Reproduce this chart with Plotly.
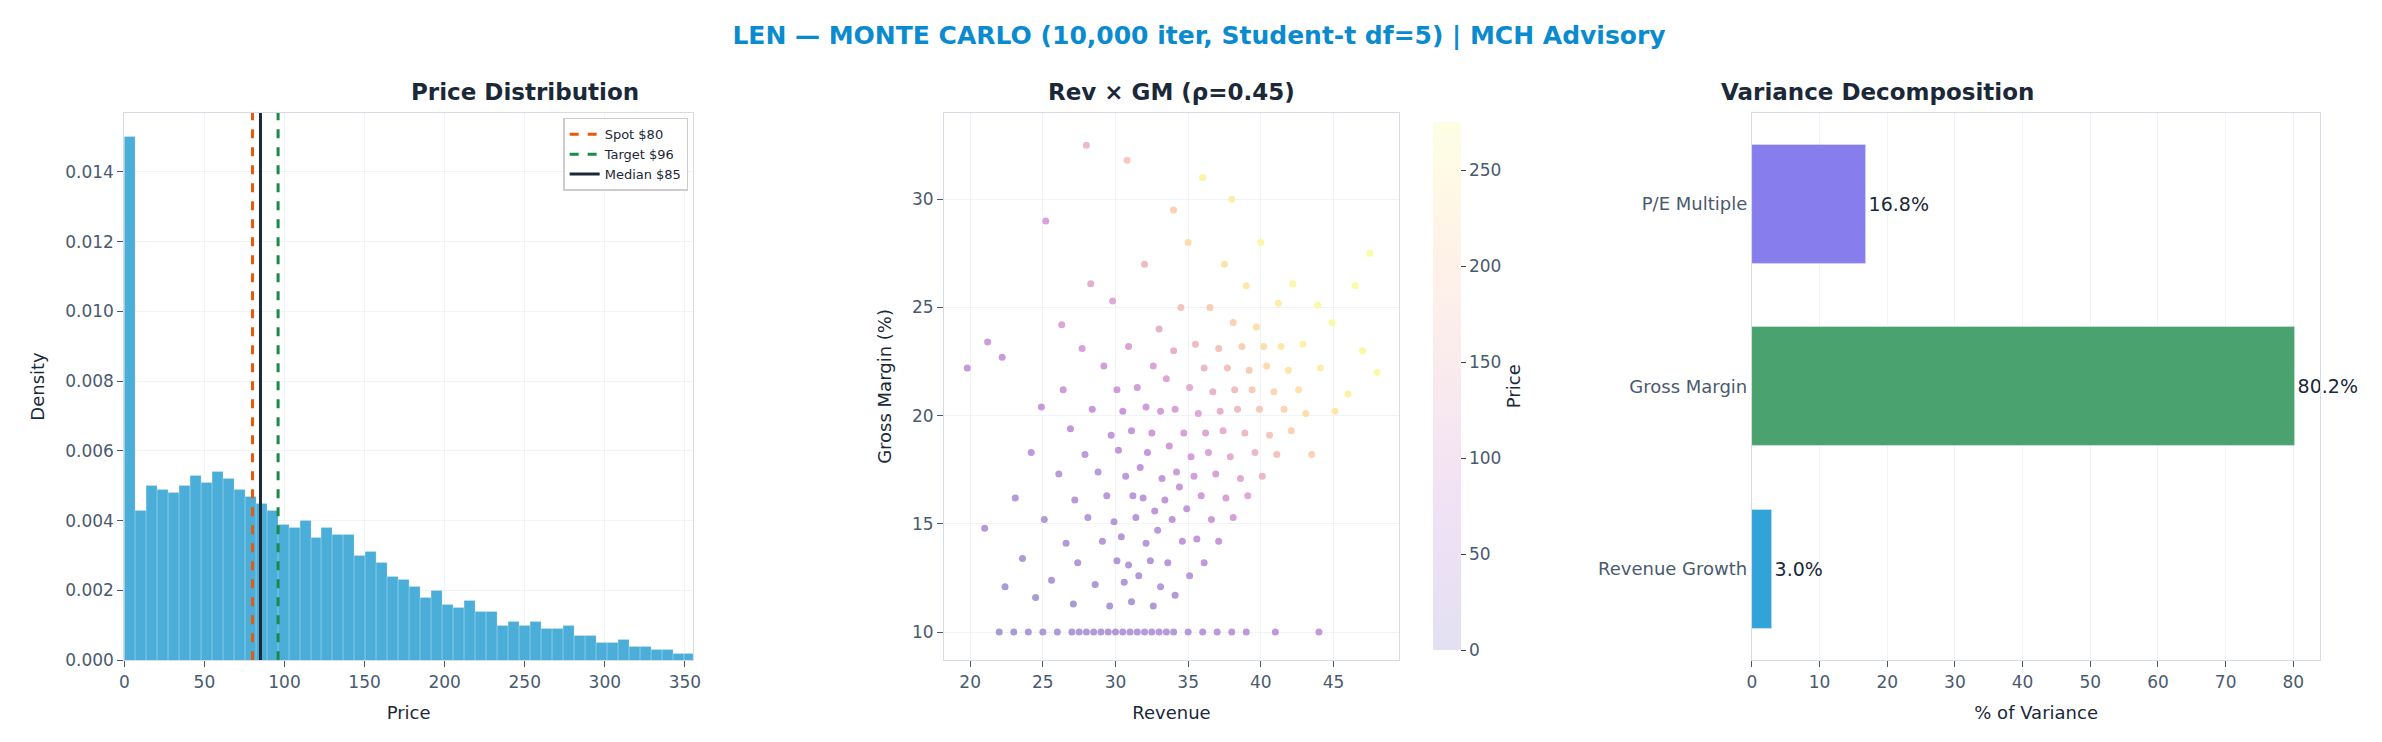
import plotly.graph_objects as go

# histogram of simulated price (density per bin, bin width ~6.85)
bin_width = 6.85
hist_density = [0.0150, 0.0043, 0.0050, 0.0049, 0.0048, 0.0050, 0.0053, 0.0051, 0.0054, 0.0052,
                0.0049, 0.0047, 0.0045, 0.0043, 0.0039, 0.0038, 0.0040, 0.0035, 0.0038, 0.0036,
                0.0036, 0.0030, 0.0031, 0.0028, 0.0024, 0.0023, 0.0021, 0.0018, 0.0020, 0.0016,
                0.0015, 0.0017, 0.0014, 0.0014, 0.0010, 0.0011, 0.0010, 0.0011, 0.0009, 0.0009,
                0.0010, 0.0007, 0.0007, 0.0005, 0.0005, 0.0006, 0.0004, 0.0004, 0.0003, 0.0003,
                0.0002, 0.0002]
spot, target, median = 80, 96, 85

# sampled points of the revenue / gross margin cloud (rev, gm, price)
cloud = [(19.8,22.2,60),(21.2,23.4,70),(22.2,22.7,65),(21,14.8,25),(22.4,12.1,15),(23.1,16.2,30),(23.6,13.4,20),
         (24.2,18.3,45),(24.5,11.6,15),(25.1,15.2,30),(24.9,20.4,60),(25.2,29,90),(25.6,12.4,20),(26.1,17.3,40),
         (26.3,24.2,100),(26.6,14.1,25),(26.4,21.2,70),(27.1,11.3,15),(27.2,16.1,35),(26.9,19.4,55),(27.4,13.2,25),
         (27.7,23.1,90),(28.1,15.3,30),(27.9,18.2,45),(28.3,26.1,120),(28.6,12.2,20),(28.4,20.3,60),(29.1,14.2,30),
         (28.8,17.4,40),(29.2,22.3,80),(29.6,11.2,20),(29.4,16.3,35),(29.7,19.1,55),(30.1,13.3,25),(29.9,15.1,30),
         (30.2,18.4,50),(30.1,21.2,70),(29.8,25.3,110),(30.6,12.3,25),(30.4,14.4,30),(30.7,17.2,45),(30.5,20.2,65),
         (31.1,11.4,20),(30.9,13.1,30),(31.2,16.3,40),(31.1,19.3,60),(30.9,23.2,95),(31.6,12.6,25),(31.4,15.3,35),
         (31.7,17.6,50),(31.5,21.3,80),(32.1,14.1,35),(31.9,16.2,45),(32.2,18.3,60),(32.1,20.4,75),(32,27,150),
         (32.6,11.2,25),(32.4,13.3,30),(32.7,15.6,45),(32.5,19.2,70),(32.6,22.3,100),(33.1,12.1,30),(32.9,14.7,40),
         (33.2,17.1,60),(33.1,20.2,85),(33,24,130),(33.6,13.2,35),(33.4,16.1,55),(33.7,18.6,75),(33.5,21.7,105),
         (34.1,11.7,30),(33.9,15.2,50),(34.2,17.4,70),(34.1,20.3,95),(34,23,130),(34.6,14.2,45),(34.4,16.7,65),
         (34.7,19.2,90),(34.5,25,170),(35.1,12.6,40),(34.9,15.7,60),(35.2,18.1,85),(35.1,21.3,120),(35,28,220),
         (35.6,14.3,55),(35.4,17.2,80),(35.7,20.1,110),(35.5,23.3,150),(36.1,13.2,50),(35.9,16.3,75),(36.2,19.2,105),
         (36.1,22.2,145),(36,31,260),(36.6,15.2,70),(36.4,18.3,100),(36.7,21.1,135),(36.5,25,190),(37.1,14.2,65),
         (36.9,17.3,95),(37.2,20.2,130),(37.1,23.1,170),(37.6,16.2,90),(37.4,19.3,125),(37.7,22.2,165),(37.5,27,230),
         (38.1,15.3,85),(37.9,18.1,120),(38.2,21.2,160),(38.1,24.3,200),(38.6,17.1,115),(38.4,20.3,155),
         (38.7,23.2,195),(39.1,16.3,110),(38.9,19.2,150),(39.2,22.1,190),(39,26,240),(39.6,18.3,145),(39.4,21.2,185),
         (39.7,24.1,225),(40.1,17.2,140),(39.9,20.3,180),(40.2,23.2,220),(40,28,265),(40.6,19.1,175),(40.4,22.3,215),
         (41.1,18.2,170),(40.9,21.1,210),(41.2,25.2,250),(41.6,20.3,205),(41.4,23.2,240),(42.1,19.3,200),
         (41.9,22.1,235),(42.2,26.1,265),(42.6,21.2,230),(43.1,20.1,225),(42.9,23.3,255),(43.5,18.2,200),
         (44.1,22.2,250),(43.9,25.1,270),(45.1,20.2,240),(44.9,24.3,270),(46,21,255),(46.5,26,275),(47,23,270),
         (48,22,270),(47.5,27.5,275),(28,32.5,150),(30.8,31.8,180),(34,29.5,200),(38,30,250),
         (22,10,15),(23,10,15),(24,10,18),(25,10,18),(26,10,20),(27,10,20),(27.5,10,22),(28,10,22),
         (28.5,10,24),(29,10,24),(29.5,10,25),(30,10,26),(30.5,10,27),(31,10,28),(31.5,10,28),(32,10,30),
         (32.5,10,30),(33,10,32),(33.5,10,32),(34,10,34),(35,10,36),(36,10,38),(37,10,40),(38,10,42),
         (39,10,44),(41,10,48),(44,10,55)]
rev = [p[0] for p in cloud]
gm = [p[1] for p in cloud]
price = [p[2] for p in cloud]

factors = ["Revenue Growth", "Gross Margin", "P/E Multiple"]
variance_pct = [3.0, 80.2, 16.8]
factor_colors = ["#31a3d8", "#4aa26e", "#887ded"]

# plasma washed out with white (matplotlib alpha look)
plasma = ["#0d0887", "#46039f", "#7201a8", "#9c179e", "#bd3786",
          "#d8576b", "#ed7953", "#fb9f3a", "#fdca26", "#f0f921"]
def wash(hexc, a=0.3):
    r, g, b = (int(hexc[i:i + 2], 16) for i in (1, 3, 5))
    return "rgb(%d,%d,%d)" % tuple(round(255 - a * (255 - c)) for c in (r, g, b))
bar_scale = [[i / 9, wash(c, 0.12)] for i, c in enumerate(plasma)]
pt_scale = [[i / 9, wash(c, 0.4)] for i, c in enumerate(plasma)]

fig = go.Figure()

fig.add_trace(go.Bar(
    x=[bin_width * (i + 0.5) for i in range(len(hist_density))], y=hist_density, width=bin_width,
    marker=dict(color="#4aaed9", line=dict(color="rgba(255,255,255,0.4)", width=0.5)),
    showlegend=False, xaxis="x", yaxis="y"))
for val, name, color, dash in [(spot, f"Spot ${spot}", "#e8590c", "dash"),
                               (target, f"Target ${target}", "#1a8a4a", "dash"),
                               (median, f"Median ${median}", "#1b2838", "solid")]:
    fig.add_trace(go.Scatter(x=[val, val], y=[0, 0.0157], mode="lines", name=name,
                             line=dict(color=color, width=3, dash=dash), xaxis="x", yaxis="y"))

fig.add_trace(go.Scatter(
    x=rev, y=gm, mode="markers", showlegend=False, xaxis="x2", yaxis="y2",
    marker=dict(size=7, color=price, colorscale=pt_scale, cmin=0, cmax=275, showscale=False)))
# colorbar shown with the paler scale
fig.add_trace(go.Scatter(
    x=[None], y=[None], mode="markers", showlegend=False, xaxis="x2", yaxis="y2",
    marker=dict(color=[0], colorscale=bar_scale, cmin=0, cmax=275,
                colorbar=dict(x=0.595, xanchor="left", y=0.109, yanchor="bottom", len=0.748,
                              lenmode="fraction", thickness=28, outlinewidth=0,
                              tickvals=[0, 50, 100, 150, 200, 250], ticks="outside",
                              tickfont=dict(size=17, color="#4a5a6e"),
                              title=dict(text="Price", side="right", font=dict(size=18, color="#1b2838"))))))

fig.add_trace(go.Bar(
    y=factors, x=variance_pct, orientation="h", marker_color=factor_colors, width=0.65,
    text=[f"{v:.1f}%" for v in variance_pct], textposition="outside", cliponaxis=False,
    textfont=dict(size=19, color="#1b2838"), showlegend=False, xaxis="x3", yaxis="y3"))

ax = dict(showline=True, linecolor="#d5dce6", mirror=True, gridcolor="#f1f3f7", ticks="outside",
          ticklen=6, tickcolor="#4a5a6e", tickfont=dict(size=17, color="#4a5a6e"), zeroline=False)
def ttl(t):
    return dict(text=t, font=dict(size=18, color="#1b2838"))
fig.update_layout(
    width=2382, height=742, paper_bgcolor="white", plot_bgcolor="white",
    margin=dict(l=0, r=0, t=0, b=0), font=dict(family="DejaVu Sans"),
    title=dict(text="<b>LEN — MONTE CARLO (10,000 iter, Student-t df=5) | MCH Advisory</b>",
               x=0.5, y=0.975, yanchor="top", font=dict(size=25, color="#0a8bd0")),
    xaxis=dict(ax, domain=[0.047, 0.287], range=[0, 355], title=ttl("Price"), anchor="y"),
    yaxis=dict(ax, domain=[0.109, 0.857], range=[0, 0.0157], title=ttl("Density"), anchor="x",
               tickformat=".3f", dtick=0.002),
    xaxis2=dict(ax, domain=[0.393, 0.585], range=[18.2, 49.5], title=ttl("Revenue"), anchor="y2", dtick=5),
    yaxis2=dict(ax, domain=[0.109, 0.857], range=[8.7, 34], title=ttl("Gross Margin (%)"), anchor="x2", dtick=5),
    xaxis3=dict(ax, domain=[0.734, 0.974], range=[0, 84], title=ttl("% of Variance"), anchor="y3", dtick=10),
    yaxis3=dict(ax, domain=[0.109, 0.857], anchor="x3", showgrid=False, ticks="",
                tickfont=dict(size=18, color="#4a5a6e")),
    legend=dict(x=0.285, xanchor="right", y=0.85, yanchor="top", bgcolor="white",
                bordercolor="#cccccc", borderwidth=1.5, font=dict(size=13, color="#1b2838")),
    bargap=0,
)
for txt, xc in [("Price Distribution", 0.167), ("Rev × GM (ρ=0.45)", 0.489),
                ("Variance Decomposition", 0.854)]:
    fig.add_annotation(text=f"<b>{txt}</b>", x=xc, y=0.865, xref="paper", yref="paper",
                       yanchor="bottom", showarrow=False, font=dict(size=23, color="#1b2838"))

fig.write_html("out.html")
